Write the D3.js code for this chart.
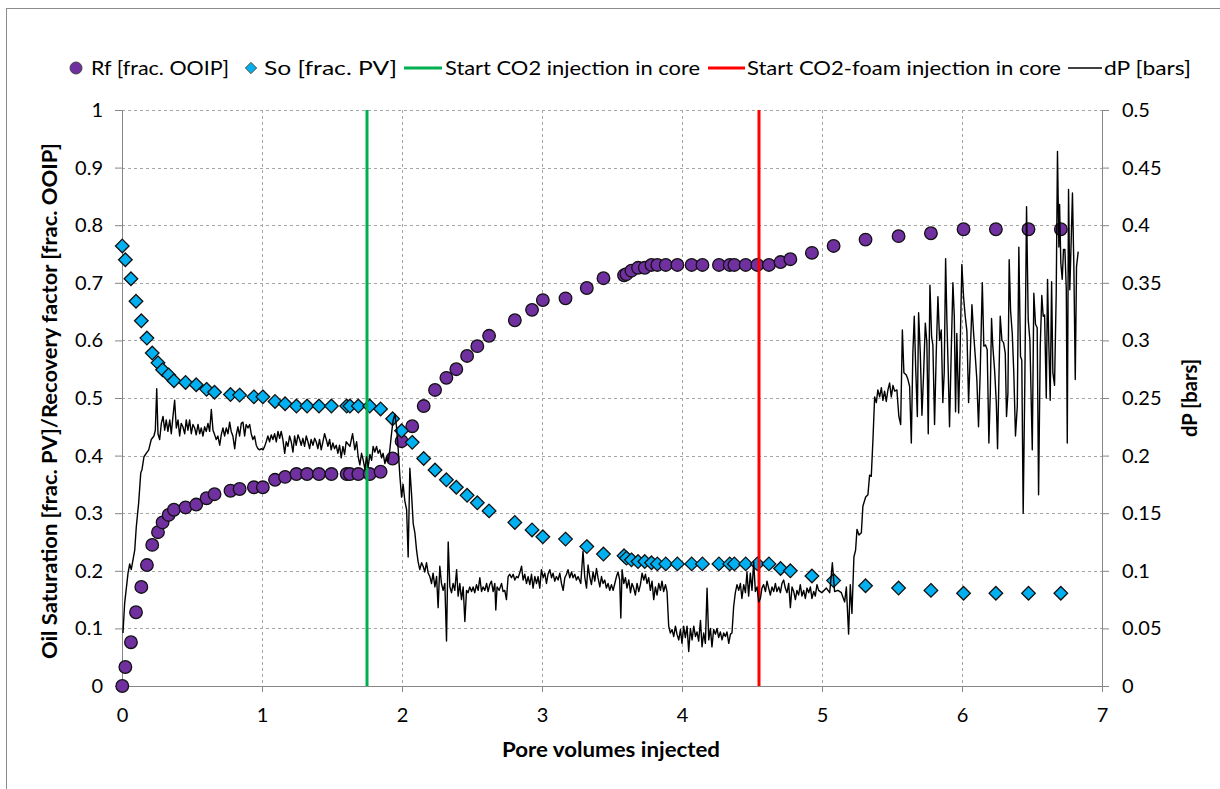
<!DOCTYPE html>
<html><head><meta charset="utf-8">
<script src="https://cdn.jsdelivr.net/npm/d3@7"></script>
<style>
body{margin:0;background:#fff}
svg{display:block}
text{font-family:Lato,'Liberation Sans',sans-serif;fill:#000}
</style>
</head><body>
<svg id="chart" width="1220" height="789"></svg>
<script>
// ---------------- DATA ----------------
const pv = [0.002,0.024,0.064,0.10,0.138,0.178,0.216,0.257,0.29,0.333,0.371,0.454,0.53,0.604,0.661,0.775,0.84,0.942,1.006,1.093,1.165,1.246,1.322,1.407,1.496,1.605,1.628,1.688,1.769,1.847,1.933,1.997,2.073,2.155,2.236,2.317,2.388,2.465,2.538,2.622,2.806,2.929,3.006,3.168,3.32,3.439,3.586,3.603,3.639,3.686,3.734,3.782,3.824,3.884,3.967,4.069,4.146,4.264,4.341,4.374,4.455,4.538,4.621,4.704,4.774,4.928,5.083,5.311,5.547,5.778,6.011,6.242,6.475,6.706];
const rf = [0.0,0.033,0.076,0.128,0.172,0.21,0.245,0.267,0.284,0.297,0.306,0.31,0.315,0.326,0.333,0.339,0.342,0.345,0.345,0.358,0.363,0.368,0.368,0.368,0.368,0.368,0.368,0.368,0.368,0.372,0.395,0.425,0.451,0.486,0.514,0.535,0.55,0.573,0.59,0.608,0.635,0.653,0.67,0.673,0.691,0.708,0.713,0.715,0.721,0.726,0.726,0.731,0.731,0.731,0.731,0.731,0.731,0.731,0.731,0.731,0.731,0.731,0.731,0.736,0.741,0.752,0.764,0.775,0.781,0.786,0.793,0.793,0.793,0.793];
const so = [0.764,0.740,0.707,0.668,0.634,0.604,0.578,0.561,0.549,0.54,0.530,0.527,0.523,0.515,0.510,0.506,0.505,0.502,0.502,0.494,0.490,0.486,0.486,0.486,0.486,0.486,0.486,0.486,0.486,0.481,0.464,0.443,0.423,0.395,0.375,0.358,0.345,0.331,0.318,0.304,0.284,0.271,0.259,0.255,0.242,0.229,0.226,0.222,0.219,0.216,0.216,0.214,0.212,0.212,0.212,0.212,0.212,0.212,0.212,0.212,0.212,0.212,0.212,0.204,0.200,0.191,0.183,0.174,0.170,0.166,0.161,0.161,0.161,0.161];
const co2Start = 1.75;
const foamStart = 4.55;
// dP [bars] vs pore volumes injected
const dP = [
[0.007,0.046],[0.019,0.072],[0.043,0.098],[0.055,0.106],[0.066,0.101],[0.091,0.118],[0.102,0.138],[0.119,0.159],[0.134,0.185],[0.143,0.188],[0.157,0.199],[0.173,0.202],[0.191,0.205],[0.209,0.214],[0.228,0.217],[0.238,0.222],[0.248,0.258],[0.257,0.219],[0.269,0.214],[0.281,0.228],[0.293,0.234],[0.305,0.222],[0.316,0.231],[0.328,0.221],[0.341,0.231],[0.352,0.219],[0.364,0.234],[0.376,0.248],[0.388,0.224],[0.4,0.231],[0.412,0.217],[0.423,0.228],[0.435,0.225],[0.448,0.219],[0.459,0.231],[0.471,0.222],[0.483,0.231],[0.495,0.219],[0.507,0.227],[0.519,0.224],[0.53,0.218],[0.543,0.227],[0.555,0.219],[0.566,0.224],[0.578,0.217],[0.59,0.225],[0.602,0.221],[0.614,0.228],[0.626,0.221],[0.638,0.24],[0.65,0.222],[0.662,0.218],[0.673,0.214],[0.685,0.217],[0.698,0.209],[0.709,0.218],[0.721,0.224],[0.733,0.217],[0.745,0.224],[0.757,0.219],[0.769,0.229],[0.78,0.221],[0.792,0.217],[0.805,0.206],[0.816,0.218],[0.828,0.225],[0.84,0.217],[0.852,0.228],[0.864,0.229],[0.876,0.217],[0.887,0.227],[0.9,0.224],[0.912,0.227],[0.923,0.219],[0.935,0.214],[0.947,0.217],[0.959,0.209],[0.971,0.206],[0.983,0.205],[0.995,0.206],[1.007,0.205],[1.019,0.208],[1.03,0.212],[1.042,0.217],[1.054,0.212],[1.066,0.218],[1.078,0.214],[1.09,0.219],[1.102,0.212],[1.114,0.221],[1.126,0.215],[1.137,0.221],[1.149,0.214],[1.162,0.202],[1.173,0.212],[1.185,0.208],[1.197,0.217],[1.209,0.212],[1.221,0.203],[1.233,0.217],[1.244,0.209],[1.257,0.218],[1.269,0.214],[1.28,0.209],[1.292,0.215],[1.304,0.208],[1.316,0.217],[1.328,0.212],[1.34,0.206],[1.351,0.214],[1.364,0.209],[1.376,0.215],[1.387,0.212],[1.399,0.206],[1.411,0.214],[1.423,0.205],[1.435,0.212],[1.447,0.219],[1.459,0.214],[1.471,0.208],[1.483,0.214],[1.494,0.205],[1.506,0.211],[1.518,0.206],[1.53,0.209],[1.542,0.202],[1.554,0.209],[1.566,0.198],[1.578,0.208],[1.59,0.201],[1.601,0.212],
[1.628,0.208],[1.647,0.219],[1.663,0.205],[1.676,0.212],[1.687,0.199],[1.699,0.192],[1.711,0.202],[1.723,0.196],[1.735,0.188],[1.747,0.199],[1.758,0.19],[1.771,0.201],[1.783,0.196],[1.794,0.208],[1.806,0.203],[1.818,0.208],[1.83,0.202],[1.842,0.205],[1.854,0.198],[1.865,0.202],[1.878,0.193],[1.89,0.199],[1.901,0.195],[1.913,0.205],[1.925,0.219],[1.937,0.231],[1.949,0.236],[1.961,0.225],[1.973,0.205],[1.985,0.182],[1.997,0.164],[2.008,0.175],[2.02,0.161],[2.033,0.153],[2.044,0.112],[2.056,0.189],[2.068,0.167],[2.08,0.141],[2.092,0.133],[2.104,0.118],[2.115,0.108],[2.127,0.101],[2.14,0.107],[2.151,0.104],[2.163,0.099],[2.175,0.107],[2.187,0.098],[2.199,0.095],[2.211,0.089],[2.222,0.098],[2.235,0.086],[2.247,0.095],[2.258,0.068],[2.27,0.104],[2.282,0.089],[2.294,0.083],[2.306,0.089],[2.318,0.039],[2.33,0.125],[2.342,0.086],[2.354,0.081],[2.365,0.089],[2.377,0.083],[2.39,0.101],[2.401,0.078],[2.413,0.089],[2.425,0.075],[2.437,0.086],[2.449,0.056],[2.461,0.083],[2.472,0.081],[2.484,0.086],[2.497,0.082],[2.508,0.086],[2.52,0.081],[2.532,0.088],[2.544,0.083],[2.556,0.094],[2.568,0.082],[2.579,0.086],[2.592,0.083],[2.604,0.089],[2.615,0.082],[2.627,0.088],[2.639,0.091],[2.651,0.082],[2.663,0.089],[2.67,0.066],[2.679,0.086],[2.694,0.083],[2.711,0.089],[2.722,0.082],[2.734,0.083],[2.746,0.075],[2.758,0.095],[2.77,0.097],[2.782,0.094],[2.794,0.097],[2.806,0.092],[2.818,0.095],[2.829,0.094],[2.841,0.098],[2.854,0.104],[2.865,0.092],[2.877,0.097],[2.889,0.089],[2.901,0.095],[2.913,0.088],[2.925,0.097],[2.936,0.085],[2.949,0.095],[2.961,0.089],[2.972,0.095],[2.984,0.085],[2.996,0.101],[3.008,0.094],[3.02,0.098],[3.032,0.089],[3.043,0.097],[3.056,0.101],[3.068,0.094],[3.079,0.098],[3.091,0.091],[3.103,0.095],[3.115,0.092],[3.127,0.098],[3.139,0.089],[3.151,0.083],[3.163,0.094],[3.175,0.097],[3.186,0.101],[3.198,0.094],[3.211,0.099],[3.222,0.094],[3.234,0.097],[3.246,0.092],[3.258,0.095],
[3.277,0.089],[3.293,0.117],[3.305,0.095],[3.318,0.085],[3.329,0.105],[3.341,0.095],[3.353,0.088],[3.365,0.099],[3.377,0.091],[3.389,0.102],[3.4,0.094],[3.413,0.086],[3.425,0.095],[3.436,0.089],[3.448,0.092],[3.46,0.085],[3.472,0.089],[3.484,0.083],[3.496,0.088],[3.508,0.083],[3.52,0.089],[3.532,0.095],[3.543,0.099],[3.555,0.092],[3.563,0.059],[3.572,0.101],[3.584,0.089],[3.596,0.094],[3.607,0.085],[3.62,0.092],[3.632,0.081],[3.643,0.089],[3.655,0.085],[3.667,0.079],[3.679,0.089],[3.691,0.082],[3.703,0.088],[3.715,0.098],[3.727,0.092],[3.739,0.097],[3.75,0.089],[3.762,0.094],[3.774,0.083],[3.786,0.091],[3.798,0.075],[3.81,0.086],[3.822,0.079],[3.834,0.089],[3.846,0.083],[3.857,0.091],[3.869,0.082],[3.882,0.088],[3.893,0.082],[3.905,0.052],[3.917,0.046],[3.929,0.049],[3.941,0.043],[3.953,0.052],[3.964,0.045],[3.977,0.040],[3.989,0.049],[4.0,0.037],[4.012,0.052],[4.024,0.042],[4.036,0.052],[4.048,0.030],[4.06,0.050],[4.072,0.040],[4.084,0.052],[4.096,0.043],[4.107,0.047],[4.119,0.039],[4.132,0.057],[4.143,0.034],[4.155,0.046],[4.167,0.037],[4.179,0.085],[4.191,0.040],[4.203,0.050],[4.214,0.034],[4.226,0.049],[4.239,0.045],[4.25,0.050],[4.262,0.042],[4.274,0.047],[4.286,0.040],[4.298,0.046],[4.31,0.043],[4.321,0.047],[4.334,0.037],[4.346,0.045],[4.357,0.046],[4.369,0.069],[4.381,0.081],[4.393,0.088],[4.405,0.083],[4.417,0.089],[4.428,0.076],[4.441,0.088],[4.453,0.081],[4.464,0.099],[4.476,0.078],[4.488,0.098],[4.5,0.083],[4.512,0.108],[4.524,0.082],[4.536,0.086],[4.548,0.073],[4.56,0.076],[4.571,0.085],[4.583,0.088],[4.596,0.082],[4.607,0.091],[4.619,0.085],[4.631,0.079],[4.643,0.086],[4.655,0.082],[4.667,0.089],[4.678,0.082],[4.691,0.086],[4.703,0.081],[4.714,0.089],[4.726,0.092],[4.738,0.085],[4.75,0.081],[4.762,0.089],[4.774,0.068],[4.786,0.086],[4.798,0.082],[4.81,0.075],[4.821,0.083],[4.833,0.079],[4.845,0.088],[4.857,0.078],[4.869,0.083],[4.881,0.076],[4.893,0.085],[4.905,0.081],[4.917,0.086],[4.928,0.076],[4.941,0.082],[4.952,0.078],[4.964,0.088],[4.976,0.083],
[4.999,0.081],[5.031,0.085],[5.055,0.081],[5.074,0.107],[5.09,0.082],[5.114,0.083],[5.138,0.081],[5.162,0.073],[5.174,0.086],[5.19,0.045],[5.202,0.088],[5.214,0.063],[5.228,0.112],[5.24,0.118],[5.25,0.136],[5.264,0.131],[5.281,0.133],[5.292,0.156],[5.312,0.164],[5.328,0.166],[5.34,0.183],[5.352,0.182],[5.364,0.214],[5.376,0.251],[5.388,0.246],[5.399,0.257],[5.412,0.251],[5.424,0.259],[5.435,0.248],[5.447,0.256],[5.459,0.247],[5.471,0.257],[5.483,0.263],[5.495,0.251],[5.507,0.261],[5.519,0.256],[5.535,0.257],[5.549,0.234],[5.562,0.227],[5.574,0.309],[5.585,0.272],[5.602,0.27],[5.614,0.266],[5.626,0.26],[5.638,0.211],[5.649,0.289],[5.659,0.321],[5.669,0.277],[5.681,0.234],[5.69,0.324],[5.702,0.289],[5.714,0.235],[5.726,0.272],[5.738,0.315],[5.749,0.298],[5.759,0.219],[5.771,0.348],[5.783,0.303],[5.792,0.296],[5.804,0.227],[5.816,0.289],[5.828,0.338],[5.84,0.300],[5.852,0.309],[5.863,0.246],[5.873,0.272],[5.883,0.371],[5.892,0.318],[5.902,0.272],[5.911,0.225],[5.923,0.289],[5.935,0.35],[5.945,0.321],[5.954,0.238],[5.963,0.306],[5.976,0.237],[5.988,0.300],[5.999,0.366],[6.011,0.338],[6.023,0.321],[6.035,0.308],[6.047,0.246],[6.056,0.277],[6.071,0.331],[6.083,0.306],[6.095,0.286],[6.106,0.266],[6.118,0.225],[6.13,0.272],[6.145,0.35],[6.156,0.295],[6.168,0.296],[6.18,0.292],[6.192,0.211],[6.202,0.254],[6.211,0.319],[6.22,0.295],[6.233,0.274],[6.245,0.246],[6.254,0.206],[6.263,0.263],[6.273,0.321],[6.285,0.300],[6.297,0.298],[6.309,0.289],[6.318,0.234],[6.328,0.254],[6.337,0.370],[6.347,0.326],[6.359,0.306],[6.37,0.272],[6.382,0.217],[6.395,0.243],[6.406,0.381],[6.418,0.286],[6.427,0.283],[6.437,0.150],[6.449,0.266],[6.461,0.416],[6.473,0.318],[6.485,0.300],[6.502,0.205],[6.513,0.341],[6.525,0.314],[6.537,0.311],[6.547,0.166],[6.559,0.295],[6.57,0.339],[6.58,0.321],[6.59,0.322],[6.602,0.25],[6.611,0.353],[6.62,0.298],[6.63,0.248],[6.64,0.351],[6.649,0.272],[6.661,0.261],[6.673,0.341],[6.682,0.464],[6.692,0.381],[6.697,0.418],[6.706,0.367],[6.716,0.353],[6.725,0.379],[6.735,0.379],[6.745,0.344],[6.752,0.211],[6.761,0.431],[6.77,0.344],[6.78,0.387],[6.789,0.428],[6.799,0.364],[6.809,0.266],[6.818,0.364],[6.83,0.377]
];
const xTicks = [0,1,2,3,4,5,6,7];
const yLeftTicks = [0,0.1,0.2,0.3,0.4,0.5,0.6,0.7,0.8,0.9,1];
const yRightTicks = [0,0.05,0.1,0.15,0.2,0.25,0.3,0.35,0.4,0.45,0.5];
const legendLabels = ["Rf [frac. OOIP]","So [frac. PV]","Start CO2 injection in core","Start CO2-foam injection in core","dP [bars]"];
const xTitle = "Pore volumes injected";
const yLeftTitle = "Oil Saturation [frac. PV]/Recovery factor [frac. OOIP]";
const yRightTitle = "dP [bars]";

// ---------------- LAYOUT ----------------
const L = 122, R = 1102, T = 110, B = 686;
const C = {rf:"#7030A0", so:"#00B0F0", co2:"#00B050", foam:"#FF0000", dp:"#000", axis:"#868686", grid:"#A6A6A6"};
const svg = d3.select("#chart");
svg.append("rect").attr("x",6.5).attr("y",8.5).attr("width",1400).attr("height",1000)
  .attr("fill","#fff").attr("stroke","#8c8c8c").attr("stroke-width",1);

const x = d3.scaleLinear().domain([0,7]).range([L,R]);
const yL = d3.scaleLinear().domain([0,1]).range([B,T]);
const yR = d3.scaleLinear().domain([0,0.5]).range([B,T]);

// grid
const grid = svg.append("g");
grid.selectAll("line.h").data(yLeftTicks.filter(d=>d>0)).join("line")
  .attr("x1",L).attr("x2",R).attr("y1",d=>Math.round(yL(d))+0.5).attr("y2",d=>Math.round(yL(d))+0.5)
  .attr("stroke",C.grid).attr("stroke-dasharray","3,3");
grid.selectAll("line.v").data(xTicks.filter(d=>d>0&&d<7)).join("line")
  .attr("y1",T).attr("y2",B).attr("x1",d=>Math.round(x(d))+0.5).attr("x2",d=>Math.round(x(d))+0.5)
  .attr("stroke",C.grid).attr("stroke-dasharray","3,3");

// axes
const fmt = d3.format("~g");
function styleAxis(g){
  g.selectAll("path.domain").attr("stroke",C.axis);
  g.selectAll(".tick line").attr("stroke",C.axis);
  g.selectAll("text").style("font-family","Lato,'Liberation Sans',sans-serif").style("font-size","20px").attr("fill","#000");
}
svg.append("g").attr("transform",`translate(0,${B})`)
  .call(d3.axisBottom(x).tickValues(xTicks).tickFormat(fmt).tickSize(6).tickSizeOuter(0).tickPadding(16))
  .call(styleAxis);
svg.append("g").attr("transform",`translate(${L},0)`)
  .call(d3.axisLeft(yL).tickValues(yLeftTicks).tickFormat(fmt).tickSize(7).tickSizeOuter(0).tickPadding(12))
  .call(styleAxis);
svg.append("g").attr("transform",`translate(${R},0)`)
  .call(d3.axisRight(yR).tickValues(yRightTicks).tickFormat(fmt).tickSize(7).tickSizeOuter(0).tickPadding(13))
  .call(styleAxis);

// markers
const pts = pv.map((p,i)=>({p, rf:rf[i], so:so[i]}));
svg.append("g").selectAll("circle").data(pts).join("circle")
  .attr("cx",d=>x(d.p)).attr("cy",d=>yL(d.rf)).attr("r",6.3)
  .attr("fill",C.rf).attr("stroke","#111").attr("stroke-width",1.3);
const dia = d3.symbol().type(d3.symbolDiamond2).size(118);
svg.append("g").selectAll("path").data(pts).join("path")
  .attr("transform",d=>`translate(${x(d.p)},${yL(d.so)})`).attr("d",dia)
  .attr("fill",C.so).attr("stroke","#111").attr("stroke-width",1.3);

// vertical event lines
svg.append("line").attr("x1",x(co2Start)).attr("x2",x(co2Start)).attr("y1",T).attr("y2",B)
  .attr("stroke",C.co2).attr("stroke-width",3);
svg.append("line").attr("x1",x(foamStart)).attr("x2",x(foamStart)).attr("y1",T).attr("y2",B)
  .attr("stroke",C.foam).attr("stroke-width",3);

// dP line
svg.append("path").datum(dP)
  .attr("d",d3.line().x(d=>x(d[0])).y(d=>yR(d[1])))
  .attr("fill","none").attr("stroke",C.dp).attr("stroke-width",1.4).attr("stroke-linejoin","round");

// titles
svg.append("text").attr("x",611).attr("y",757).attr("text-anchor","middle")
  .style("font-size","21px").style("font-weight","bold")
  .attr("textLength",218).attr("lengthAdjust","spacingAndGlyphs").text(xTitle);
svg.append("text").attr("transform","translate(57,401) rotate(-90)").attr("text-anchor","middle")
  .style("font-size","21px").style("font-weight","bold")
  .attr("textLength",516).attr("lengthAdjust","spacingAndGlyphs").text(yLeftTitle);
svg.append("text").attr("transform","translate(1197,398) rotate(-90)").attr("text-anchor","middle")
  .style("font-size","21px").style("font-weight","bold")
  .attr("textLength",78).attr("lengthAdjust","spacingAndGlyphs").text(yRightTitle);

// legend
const ly = 68;
const lg = svg.append("g").style("font-size","20px");
function ltext(xp, w, s){
  lg.append("text").attr("x",xp).attr("y",ly+7).attr("textLength",w).attr("lengthAdjust","spacingAndGlyphs").text(s);
}
lg.append("circle").attr("cx",76).attr("cy",ly).attr("r",6).attr("fill",C.rf).attr("stroke","#444").attr("stroke-width",1);
ltext(91, 138, legendLabels[0]);
lg.append("path").attr("transform",`translate(251,${ly})`).attr("d",d3.symbol().type(d3.symbolDiamond2).size(80))
  .attr("fill",C.so).attr("stroke","#444").attr("stroke-width",1);
ltext(264, 133, legendLabels[1]);
lg.append("line").attr("x1",404).attr("x2",442).attr("y1",ly).attr("y2",ly).attr("stroke",C.co2).attr("stroke-width",3);
ltext(445, 255, legendLabels[2]);
lg.append("line").attr("x1",708).attr("x2",745).attr("y1",ly).attr("y2",ly).attr("stroke",C.foam).attr("stroke-width",3);
ltext(747, 314, legendLabels[3]);
lg.append("line").attr("x1",1068).attr("x2",1102).attr("y1",ly).attr("y2",ly).attr("stroke",C.dp).attr("stroke-width",1.5);
ltext(1104, 87, legendLabels[4]);
</script>
</body></html>
